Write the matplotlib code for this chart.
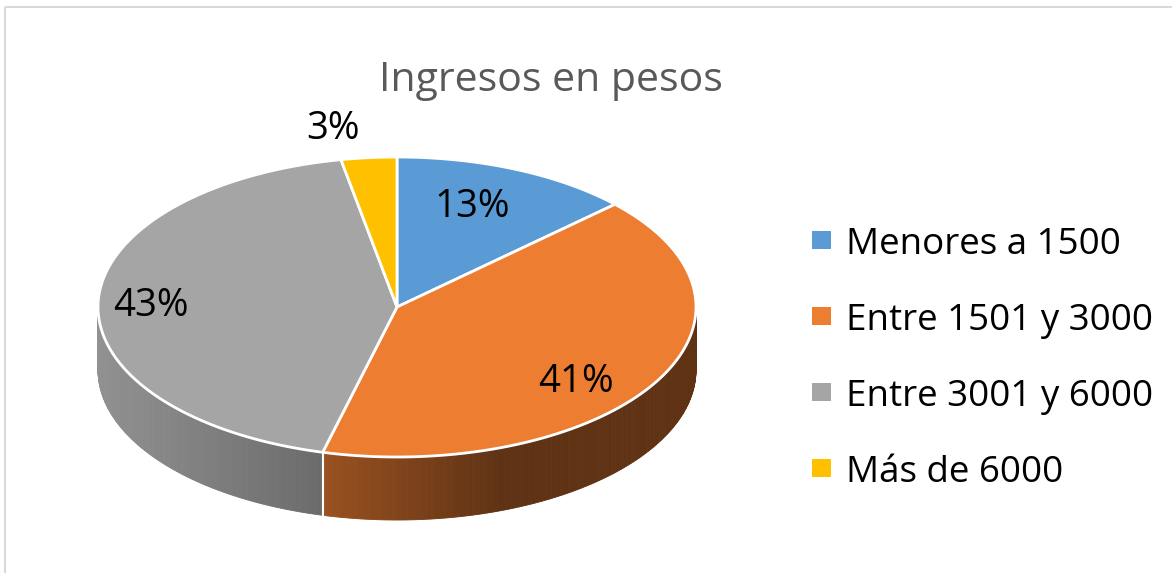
import numpy as np
import matplotlib.pyplot as plt
import matplotlib.colors as mcolors
from matplotlib.patches import Polygon, Rectangle

titulo = 'Ingresos en pesos'
categorias = ['Menores a 1500', 'Entre 1501 y 3000', 'Entre 3001 y 6000', 'Más de 6000']
porcentajes = [13, 41, 43, 3]
colores = ['#5B9BD5', '#ED7D31', '#A5A5A5', '#FFC000']

# posiciones de las etiquetas (pixeles, linea base)
etiquetas_xy = [(472, 217), (576, 392), (151, 316), (333, 139)]

W, H = 1172, 573
cx, cy, rx, ry, prof = 397, 307, 299, 150, 63

plt.rcParams['font.family'] = ['Open Sans', 'DejaVu Sans']


def punto(theta, dz=0):
    t = np.radians(theta)
    return cx + rx * np.sin(t), cy - ry * np.cos(t) + dz


def sombra(x):
    return np.interp(x, [97, 320, 500, 700], [0.88, 0.65, 0.40, 0.40])


fig = plt.figure(figsize=(W / 100, H / 100), dpi=100)
ax = fig.add_axes([0, 0, 1, 1])
ax.set_xlim(0, W)
ax.set_ylim(H, 0)
ax.axis('off')

# marco del grafico
ax.add_patch(Rectangle((5, 7), 1300, 700, fill=False, edgecolor='#d9d9d9', lw=1.5))

bordes = np.concatenate([[0], np.cumsum(porcentajes)]) / sum(porcentajes) * 360

# paredes laterales con degradado
for i, color in enumerate(colores):
    a0, a1 = max(bordes[i], 90), min(bordes[i + 1], 270)
    if a0 >= a1:
        continue
    base = np.array(mcolors.to_rgb(color))
    angs = np.linspace(a0, a1, int(a1 - a0) * 2 + 2)
    for j in range(len(angs) - 1):
        xa, ya = punto(angs[j:j + 2])
        pts = [(xa[0], ya[0]), (xa[1], ya[1]), (xa[1], ya[1] + prof), (xa[0], ya[0] + prof)]
        c = base * sombra(xa.mean())
        ax.add_patch(Polygon(pts, closed=True, facecolor=c, edgecolor=c, lw=0.6))

# separaciones blancas en la pared
for b in bordes[1:-1]:
    if 90 < b < 270:
        x, y = punto(b)
        ax.plot([x, x], [y, y + prof], color='white', lw=1.5)

# caras superiores
for i, color in enumerate(colores):
    angs = np.linspace(bordes[i], bordes[i + 1], 200)
    xa, ya = punto(angs)
    pts = [(cx, cy)] + list(zip(xa, ya))
    ax.add_patch(Polygon(pts, closed=True, facecolor=color, edgecolor='white',
                         lw=2, joinstyle='round'))

# etiquetas de porcentaje
for p, (x, y) in zip(porcentajes, etiquetas_xy):
    ax.text(x, y, f'{p}%', fontsize=27.5, ha='center', va='baseline', color='black')

# titulo
ax.text(551, 91, titulo, fontsize=29.5, ha='center', va='baseline', color='#595959')

# leyenda
for i, (cat, color) in enumerate(zip(categorias, colores)):
    yb = 254 + i * 76
    ax.add_patch(Rectangle((812, yb - 23), 19, 18, facecolor=color, edgecolor='none'))
    ax.text(846, yb, cat, fontsize=26.5, ha='left', va='baseline', color='black')

fig.savefig('out.png', dpi=100)
